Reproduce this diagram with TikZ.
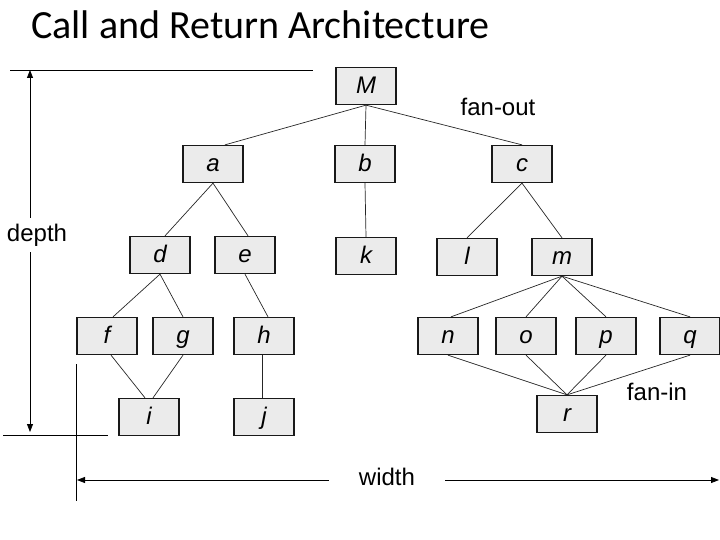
\documentclass[tikz,border=0pt]{standalone}
\usepackage{fontspec}
\setmainfont{Liberation Sans}
\newfontfamily\titlefont{Carlito}
\usetikzlibrary{arrows.meta}
\begin{document}
\begin{tikzpicture}[x=1pt,y=-1pt,
  box/.style={draw=black!90, line width=1.3pt, fill=black!8, minimum width=60pt, minimum height=37pt, inner sep=0pt, text height=20pt, text depth=5pt, font=\fontsize{24}{24}\selectfont\itshape},
  lbl/.style={font=\fontsize{24}{24}\selectfont, inner sep=0pt},
  con/.style={line width=0.7pt, draw=black!85},
  dim/.style={line width=0.8pt},
  tip/.style={-{Triangle[length=8pt,width=6pt]}}]
\useasboundingbox (0,0) rectangle (720,540);
\node[anchor=west, inner sep=0pt, font=\titlefont\fontsize{40}{40}\selectfont] (title) at (31,25) {Call and Return Architecture};
% nodes
\node[box] (M) at (366,86) {M};
\node[box] (a) at (213,164) {a};
\node[box] (b) at (365,164) {b};
\node[box] (c) at (522,164) {c};
\node[box] (d) at (160,255) {d};
\node[box] (e) at (245,255) {e};
\node[box] (k) at (366,256) {k};
\node[box] (l) at (467,257) {l};
\node[box] (m) at (562,257) {m};
\node[box] (f) at (107,336) {f};
\node[box] (g) at (183,336) {g};
\node[box] (h) at (264,336) {h};
\node[box] (n) at (448,336) {n};
\node[box] (o) at (526,336) {o};
\node[box] (p) at (606,336) {p};
\node[box] (q) at (690,336) {q};
\node[box] (i) at (149,417) {i};
\node[box] (j) at (264,417) {j};
\node[box] (r) at (567,414) {r};
% connectors
\draw[con] (M.south) -- ([xshift=12pt]a.north);
\draw[con] (M.south) -- (b.north);
\draw[con] (M.south) -- (c.north);
\draw[con] (a.south) -- ([xshift=5pt]d.north);
\draw[con] (a.south) -- ([xshift=3pt]e.north);
\draw[con] (b.south) -- (k.north);
\draw[con] (c.south) -- (l.north);
\draw[con] (c.south) -- (m.north);
\draw[con] (d.south) -- ([xshift=6pt]f.north);
\draw[con] (d.south) -- (g.north);
\draw[con] (e.south) -- ([xshift=4pt]h.north);
\draw[con] ([xshift=4pt]f.south) -- ([xshift=-4pt]i.north);
\draw[con] (g.south) -- ([xshift=4pt]i.north);
\draw[con] ([xshift=-2pt]h.south) -- ([xshift=-2pt]j.north);
\draw[con] (m.south) -- ([xshift=3pt]n.north);
\draw[con] (m.south) -- (o.north);
\draw[con] (m.south) -- (p.north);
\draw[con] (m.south) -- (q.north);
\draw[con] (n.south) -- (r.north);
\draw[con] (o.south) -- (r.north);
\draw[con] (p.south) -- (r.north);
\draw[con] (q.south) -- (r.north);
% labels
\node[lbl] (fanout) at (498,107) {fan-out};
\node[lbl] (fanin) at (657,392) {fan-in};
\node[lbl] (depth) at (37,235) {depth};
\node[lbl] (width) at (387,477) {width};
% dimension lines
\coordinate (dtop) at (30,70);
\coordinate (dbot) at (30,432);
\coordinate (wl) at (77,480);
\coordinate (wr) at (719,480);
\draw[dim] (10,70) -- (313,70);
\draw[dim] (3,435) -- (108,435);
\draw[dim] (76,364) -- (76,501);
\draw[dim,tip] (depth.north -| dtop) ++(0,-6) -- (dtop);
\draw[dim,tip] (depth.south -| dbot) ++(0,6) -- (dbot);
\draw[dim,tip] ([xshift=-30pt]width.west |- wl) -- (wl);
\draw[dim,tip] ([xshift=30pt]width.east |- wr) -- (wr);
\end{tikzpicture}
\end{document}
